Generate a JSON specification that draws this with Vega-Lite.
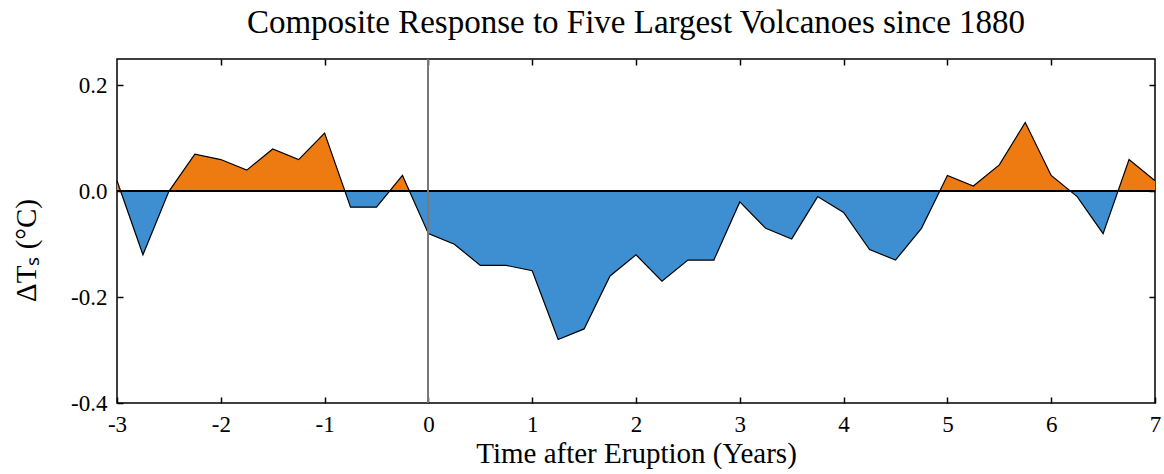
{
  "$schema": "https://vega.github.io/schema/vega-lite/v6.json",
  "autosize": "none",
  "width": 1038,
  "height": 344,
  "padding": {"left": 117, "top": 59, "right": 9, "bottom": 71},
  "background": "white",
  "config": {
    "font": "Liberation Serif",
    "view": {"stroke": "black", "strokeWidth": 1.5},
    "axis": {"grid": false, "domain": false, "tickColor": "black", "tickWidth": 1.5, "labelColor": "black", "titleColor": "black", "labelFont": "Liberation Serif", "titleFont": "Liberation Serif", "titleFontWeight": "normal"}
  },
  "title": {
    "text": "Composite Response to Five Largest Volcanoes since 1880",
    "font": "Liberation Serif",
    "fontSize": 33,
    "fontWeight": "normal",
    "color": "black",
    "anchor": "middle",
    "frame": "group",
    "baseline": "alphabetic",
    "offset": 22,
    "dy": 30
  },
  "data": {
    "values": [
      {"t": -3, "v": 0.02},
      {"t": -2.75, "v": -0.12},
      {"t": -2.5, "v": 0.0},
      {"t": -2.25, "v": 0.07},
      {"t": -2, "v": 0.06},
      {"t": -1.75, "v": 0.04},
      {"t": -1.5, "v": 0.08},
      {"t": -1.25, "v": 0.06},
      {"t": -1, "v": 0.11},
      {"t": -0.75, "v": -0.03},
      {"t": -0.5, "v": -0.03},
      {"t": -0.25, "v": 0.03},
      {"t": 0, "v": -0.08},
      {"t": 0.25, "v": -0.10},
      {"t": 0.5, "v": -0.14},
      {"t": 0.75, "v": -0.14},
      {"t": 1, "v": -0.15},
      {"t": 1.25, "v": -0.28},
      {"t": 1.5, "v": -0.26},
      {"t": 1.75, "v": -0.16},
      {"t": 2, "v": -0.12},
      {"t": 2.25, "v": -0.17},
      {"t": 2.5, "v": -0.13},
      {"t": 2.75, "v": -0.13},
      {"t": 3, "v": -0.02},
      {"t": 3.25, "v": -0.07},
      {"t": 3.5, "v": -0.09},
      {"t": 3.75, "v": -0.01},
      {"t": 4, "v": -0.04},
      {"t": 4.25, "v": -0.11},
      {"t": 4.5, "v": -0.13},
      {"t": 4.75, "v": -0.07},
      {"t": 5, "v": 0.03},
      {"t": 5.25, "v": 0.01},
      {"t": 5.5, "v": 0.05},
      {"t": 5.75, "v": 0.13},
      {"t": 6, "v": 0.03},
      {"t": 6.25, "v": -0.01},
      {"t": 6.5, "v": -0.08},
      {"t": 6.75, "v": 0.06},
      {"t": 7, "v": 0.02}
    ]
  },
  "resolve": {"axis": {"x": "independent", "y": "independent"}},
  "layer": [
    {
      "mark": {
        "type": "area",
        "fill": {
          "x1": 0, "y1": 0, "x2": 0, "y2": 1,
          "gradient": "linear",
          "stops": [
            {"offset": 0, "color": "#ee7a12"},
            {"offset": 0.31707, "color": "#ee7a12"},
            {"offset": 0.31707, "color": "#3d8fd1"},
            {"offset": 1, "color": "#3d8fd1"}
          ]
        },
        "stroke": null
      },
      "encoding": {
        "x": {
          "field": "t", "type": "quantitative",
          "scale": {"domain": [-3, 7], "nice": false, "zero": false},
          "axis": {"orient": "bottom", "title": "Time after Eruption (Years)", "values": [-3, -2, -1, 0, 1, 2, 3, 4, 5, 6, 7], "labelExpr": "datum.value < 0 ? '-' + format(-datum.value, 'd') : format(datum.value, 'd')", "tickSize": -6, "labelPadding": 16, "labelFontSize": 23, "titleFontSize": 29, "titleY": 59, "titleBaseline": "alphabetic", "labelFlush": false}
        },
        "y": {
          "field": "v", "type": "quantitative",
          "scale": {"domain": [-0.4, 0.25], "nice": false, "zero": false},
          "axis": {"orient": "left", "title": "ΔTₛ (°C)", "values": [-0.4, -0.2, 0, 0.2], "labelExpr": "datum.value < 0 ? '-' + format(-datum.value, '.1f') : format(datum.value, '.1f')", "tickSize": -6, "labelPadding": 16, "labelFontSize": 23, "titleFontSize": 29, "titleX": -82, "titleY": 191, "titleAngle": -90, "titleAlign": "center", "titleBaseline": "alphabetic", "labelFlush": false}
        },
        "y2": {"datum": 0}
      }
    },
    {
      "mark": {"type": "line", "color": "black", "strokeWidth": 1.2},
      "encoding": {
        "x": {"field": "t", "type": "quantitative", "axis": {"orient": "top", "title": null, "labels": false, "values": [-2, -1, 0, 1, 2, 3, 4, 5, 6], "tickSize": -6}},
        "y": {"field": "v", "type": "quantitative", "axis": {"orient": "right", "title": null, "labels": false, "values": [-0.2, 0, 0.2], "tickSize": -6}}
      }
    },
    {
      "mark": {"type": "rule", "color": "black", "strokeWidth": 1.5},
      "encoding": {"y": {"datum": 0, "axis": null}}
    },
    {
      "mark": {"type": "rule", "color": "#777777", "strokeWidth": 1},
      "encoding": {"x": {"datum": 0, "axis": null}}
    }
  ]
}
